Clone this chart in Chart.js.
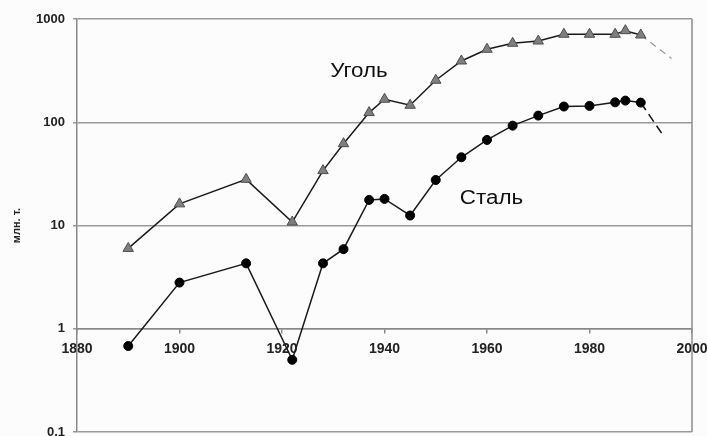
<!DOCTYPE html>
<html>
<head>
<meta charset="utf-8">
<script src="https://cdn.jsdelivr.net/npm/chart.js@4"></script>
<style>
  html, body { margin: 0; padding: 0; background: #fcfcfc; overflow: hidden; }
  #wrap { width: 707px; height: 439px; }
</style>
</head>
<body>
<div id="wrap"><canvas id="myChart"></canvas></div>
<script>
// coal (triangles)
var coalYears = [1890, 1900, 1913, 1922, 1928, 1932, 1937, 1940, 1945, 1950, 1955, 1960, 1965, 1970, 1975, 1980, 1985, 1987, 1990];
var coalValues = [6, 16.2, 28, 10.8, 34, 62, 124, 167, 146, 255, 392, 509, 582, 612, 711, 711, 711, 771, 700];
// steel (circles)
var steelYears = [1890, 1900, 1913, 1922, 1928, 1932, 1937, 1940, 1945, 1950, 1955, 1960, 1965, 1970, 1975, 1980, 1985, 1987, 1990];
var steelValues = [0.68, 2.8, 4.3, 0.5, 4.3, 5.9, 17.7, 18.1, 12.5, 27.6, 45.8, 67.4, 92.7, 116, 142, 144, 156, 162, 155];
// dashed forecast tails
var coalTailYears = [1990, 1996];
var coalTailValues = [700, 415];
var steelTailYears = [1990, 1994.5];
var steelTailValues = [155, 73];

var yTicks = [0.1, 1, 10, 100, 1000];
var xTicks = [1880, 1900, 1920, 1940, 1960, 1980, 2000];

// labels on the curves
var seriesLabels = [
    { text: 'Уголь', year: 1929.4, value: 307 },
    { text: 'Сталь', year: 1954.7, value: 18.1 }
];

function pts(xs, ys) {
    return xs.map(function (x, i) { return { x: x, y: ys[i] }; });
}

var frame = {
    id: 'frame',
    afterDraw: function (chart) {
        var a = chart.chartArea, ctx = chart.ctx;
        ctx.save();
        ctx.strokeStyle = '#8c8c8c';
        ctx.lineWidth = 1.5;
        ctx.beginPath();
        ctx.moveTo(a.right, a.top);
        ctx.lineTo(a.right, a.bottom);
        ctx.stroke();
        // curve names
        ctx.fillStyle = '#111';
        ctx.font = '20px "Liberation Sans", Arial, sans-serif';
        ctx.textBaseline = 'middle';
        seriesLabels.forEach(function (l) {
            var px = chart.scales.x.getPixelForValue(l.year);
            var py = chart.scales.y.getPixelForValue(l.value);
            ctx.save();
            ctx.translate(px, py);
            ctx.scale(1.12, 1);
            ctx.fillText(l.text, 0, 0);
            ctx.restore();
        });
        ctx.restore();
    }
};

var ctx = document.getElementById('myChart').getContext('2d');
var myChart = new Chart(ctx, {
    type: 'line',
    data: {
        datasets: [{
            label: 'Уголь',
            data: pts(coalYears, coalValues),
            borderColor: '#1a1a1a',
            borderWidth: 1.5,
            pointStyle: 'triangle',
            pointRadius: 6,
            pointBackgroundColor: '#7f7f7f',
            pointBorderColor: '#4d4d4d',
            pointBorderWidth: 1
        }, {
            label: 'Сталь',
            data: pts(steelYears, steelValues),
            borderColor: '#1a1a1a',
            borderWidth: 1.5,
            pointStyle: 'circle',
            pointRadius: 4.5,
            pointBackgroundColor: '#000',
            pointBorderColor: '#000',
            pointBorderWidth: 1
        }, {
            label: 'coal tail',
            data: pts(coalTailYears, coalTailValues),
            borderColor: '#9a9a9a',
            borderWidth: 1.2,
            borderDash: [7, 5],
            pointRadius: 0
        }, {
            label: 'steel tail',
            data: pts(steelTailYears, steelTailValues),
            borderColor: '#111',
            borderWidth: 1.5,
            borderDash: [9, 5],
            pointRadius: 0
        }]
    },
    options: {
        responsive: true,
        maintainAspectRatio: false,
        animation: false,
        events: [],
        layout: { padding: { left: 0, right: 15, top: 19, bottom: 0 } },
        plugins: {
            legend: { display: false },
            tooltip: { enabled: false }
        },
        scales: {
            x: {
                type: 'linear',
                min: 1880,
                max: 2000,
                position: { y: 1 },
                afterBuildTicks: function (s) {
                    s.ticks = xTicks.map(function (v) { return { value: v }; });
                },
                afterFit: function (s) {
                    s.paddingLeft = 0; s.paddingRight = 0;
                    s.paddingTop = 0; s.paddingBottom = 0;
                },
                ticks: {
                    color: '#222',
                    font: { family: '"Liberation Sans", Arial, sans-serif', size: 14, weight: 'bold' },
                    padding: 8,
                    maxRotation: 0,
                    callback: function (v) { return String(v); }
                },
                grid: { drawOnChartArea: false, drawTicks: true, tickLength: 4, color: '#888', lineWidth: 1.5 },
                border: { display: true, color: '#888', width: 1.5 }
            },
            y: {
                type: 'logarithmic',
                min: 0.1,
                max: 1000,
                afterBuildTicks: function (s) {
                    s.ticks = yTicks.map(function (v) { return { value: v }; });
                },
                afterFit: function (s) {
                    s.width = 77;
                    s.paddingTop = 0; s.paddingBottom = 0;
                },
                ticks: {
                    color: '#222',
                    font: { family: '"Liberation Sans", Arial, sans-serif', size: 13, weight: 'bold' },
                    padding: 8,
                    callback: function (v) { return String(v); }
                },
                grid: { color: '#999', lineWidth: 1.5, tickLength: 4 },
                border: { display: true, color: '#888', width: 1.5 },
                title: {
                    display: true,
                    text: 'млн. т.',
                    color: '#222',
                    font: { family: '"Liberation Sans", Arial, sans-serif', size: 11, weight: 'bold' },
                    padding: { top: 10, bottom: 0 }
                }
            }
        }
    },
    plugins: [frame]
});
</script>
</body>
</html>
